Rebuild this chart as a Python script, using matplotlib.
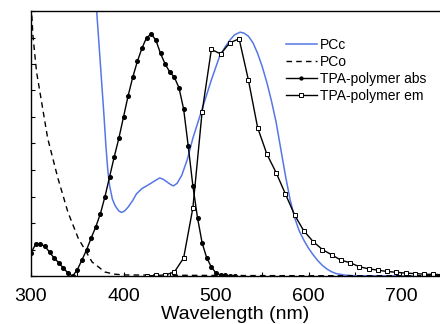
import numpy as np
import matplotlib
matplotlib.use("Agg")
import matplotlib.pyplot as plt
from matplotlib.ticker import MultipleLocator, NullFormatter

plt.rcParams["font.family"] = ["Liberation Sans", "DejaVu Sans"]

# -----------------------------
# Dados
# -----------------------------
pcc_nm = [362, 371, 373, 375, 377, 379, 381, 383, 385, 388, 391, 395, 398, 401,
          405, 410, 414, 420, 425, 432, 439, 443, 447, 451, 454, 458, 463, 466,
          469, 475, 480, 485, 490, 495, 500, 504, 510, 515, 520, 526, 530, 535,
          540, 545, 550, 555, 560, 565, 570, 575, 580, 585, 590, 595, 600, 605,
          610, 615, 620, 625, 630, 640, 650, 700, 745]
pcc_val = [1.25, 1.0, 0.90, 0.80, 0.70, 0.60, 0.49, 0.40, 0.34, 0.29, 0.265,
           0.245, 0.24, 0.245, 0.26, 0.285, 0.31, 0.33, 0.34, 0.355, 0.37, 0.365,
           0.355, 0.345, 0.34, 0.35, 0.38, 0.41, 0.44, 0.52, 0.575, 0.63, 0.685,
           0.74, 0.79, 0.83, 0.865, 0.89, 0.91, 0.92, 0.917, 0.905, 0.88, 0.84,
           0.79, 0.73, 0.66, 0.58, 0.48, 0.38, 0.29, 0.22, 0.17, 0.135, 0.105,
           0.08, 0.058, 0.04, 0.026, 0.016, 0.009, 0.003, 0.001, 0.0, 0.0]

pco_nm = [300, 301, 302, 306, 312, 318, 329, 340, 351, 366, 380, 390, 400, 450,
          500, 600, 745]
pco_val = [1.02, 0.975, 0.91, 0.77, 0.645, 0.52, 0.37, 0.24, 0.143, 0.053, 0.015,
           0.007, 0.004, 0.003, 0.002, 0.001, 0.001]

abs_nm = list(range(300, 525, 5))
abs_val = [0.087, 0.12, 0.12, 0.113, 0.09, 0.068, 0.05, 0.03, 0.011, 0.0,
           0.023, 0.06, 0.098, 0.143, 0.185, 0.235, 0.30, 0.375, 0.45, 0.52,
           0.60, 0.68, 0.75, 0.81, 0.86, 0.90, 0.913, 0.89, 0.84, 0.80,
           0.77, 0.75, 0.71, 0.63, 0.49, 0.34, 0.22, 0.125, 0.068, 0.034,
           0.011, 0.004, 0.002, 0.001, 0.0]

em_nm = list(range(425, 755, 10))
em_val = [0.0, 0.002, 0.004, 0.015, 0.068, 0.257, 0.62, 0.855, 0.838, 0.88,
          0.895, 0.74, 0.56, 0.46, 0.39, 0.31, 0.23, 0.17, 0.13, 0.10, 0.08,
          0.06, 0.05, 0.035, 0.027, 0.022, 0.017, 0.014, 0.011, 0.009, 0.007,
          0.006, 0.005]


def main():
    fig = plt.figure(figsize=(4.4, 3.24), dpi=100)
    ax = fig.add_axes([31 / 440, 1 - 276 / 324, 1 - 31 / 440, 265 / 324])

    ax.plot(pcc_nm, pcc_val, "-", color="#5577e6", lw=1.1, label="PCc")
    ax.plot(pco_nm, pco_val, "--", color="black", lw=1.0, dashes=(4, 3), label="PCo")
    ax.plot(abs_nm, abs_val, "-o", color="black", lw=1.0, ms=2.6,
            mfc="black", mec="black", label="TPA-polymer abs")
    ax.plot(em_nm, em_val, "-s", color="black", lw=1.0, ms=3.0,
            mfc="white", mec="black", mew=0.7, label="TPA-polymer em")

    ax.set_xlim(300, 300 + 409 / 0.925)
    ax.set_ylim(0, 1.0)

    ax.xaxis.set_major_locator(MultipleLocator(100))
    ax.xaxis.set_minor_locator(MultipleLocator(50))
    ax.yaxis.set_major_locator(MultipleLocator(0.1))
    ax.yaxis.set_major_formatter(NullFormatter())
    ax.tick_params(axis="both", which="both", direction="in", length=3, width=0.8)
    ax.tick_params(axis="x", labelsize=14, pad=8.5)
    ax.tick_params(axis="y", left=True, right=False)
    ax.tick_params(axis="x", top=False)

    ax.spines["right"].set_visible(False)
    for s in ("left", "bottom", "top"):
        ax.spines[s].set_linewidth(1.0)

    ax.set_xlabel("Wavelength (nm)", fontsize=14, labelpad=1)

    ax.legend(loc="upper left", bbox_to_anchor=(0.61, 0.918), frameon=False,
              fontsize=10, handlelength=2.2, handletextpad=0.25,
              labelspacing=0.2, markerscale=0.8, borderaxespad=0.0)

    fig.savefig("out.png", dpi=100)


if __name__ == "__main__":
    main()
